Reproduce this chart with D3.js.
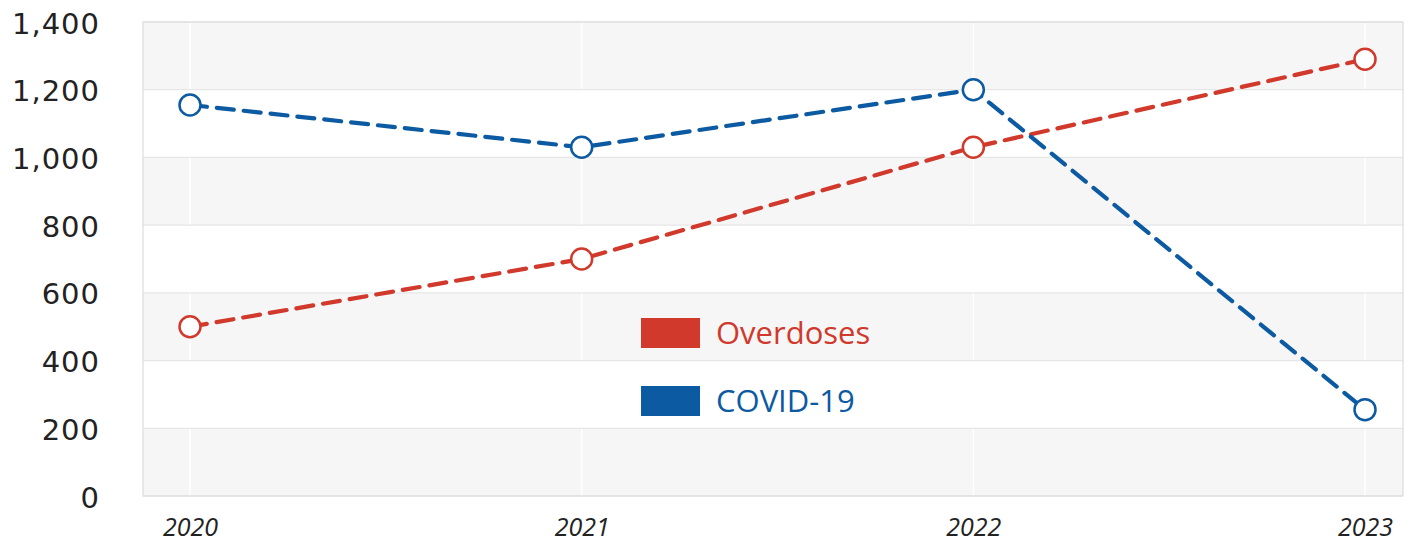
<html lang="en">
<head>
<meta charset="UTF-8">
<title>Overdoses vs COVID-19</title>
<script src="https://d3js.org/d3.v7.min.js"></script>
<style>
  body { margin: 0; background: #fff; }
</style>
</head>
<body>
<script>
// data
const years = [2020, 2021, 2022, 2023]
const overdoses = [500, 700, 1030, 1290]
const covid = [1155, 1030, 1200, 255]
const yTicks = [0, 200, 400, 600, 800, 1000, 1200, 1400]
const seriesNames = ["Overdoses", "COVID-19"]

const width = 1410, height = 544
const plot = { left: 143, right: 1403, top: 22, bottom: 496 }
const red = "#d0392b", blue = "#0c5aa1"

const svg = d3.select("body").append("svg")
  .attr("width", width)
  .attr("height", height)

const x = d3.scaleLinear()
  .domain([2020, 2023])
  .range([190, 1365])
const y = d3.scaleLinear()
  .domain([0, 1400])
  .range([plot.bottom, plot.top])

// alternating bands
const bands = yTicks.slice(0, -1).map((v, i) => ({ lo: v, hi: yTicks[i + 1], i }))
svg.append("g").selectAll("rect")
  .data(bands)
  .enter().append("rect")
  .attr("x", plot.left)
  .attr("width", plot.right - plot.left)
  .attr("y", d => y(d.hi))
  .attr("height", d => y(d.lo) - y(d.hi))
  .attr("fill", d => d.i % 2 === 0 ? "#f6f6f6" : "#ffffff")

// vertical white grid lines
svg.append("g").selectAll("line")
  .data(years)
  .enter().append("line")
  .attr("x1", d => x(d)).attr("x2", d => x(d))
  .attr("y1", plot.top).attr("y2", plot.bottom)
  .attr("stroke", "#ffffff")
  .attr("stroke-width", 1.5)

// horizontal grid lines
svg.append("g").selectAll("line")
  .data(yTicks)
  .enter().append("line")
  .attr("x1", plot.left).attr("x2", plot.right)
  .attr("y1", d => y(d)).attr("y2", d => y(d))
  .attr("stroke", "#e6e6e6")
  .attr("stroke-width", 1.2)

// frame
svg.append("rect")
  .attr("x", plot.left).attr("y", plot.top)
  .attr("width", plot.right - plot.left)
  .attr("height", plot.bottom - plot.top)
  .attr("fill", "none")
  .attr("stroke", "#dcdcdc")
  .attr("stroke-width", 1.2)

// y axis
const yAxis = d3.axisLeft(y)
  .tickValues(yTicks)
  .tickFormat(d3.format(","))
  .tickSize(0)
  .tickPadding(0)
const gy = svg.append("g")
  .attr("transform", "translate(100,0)")
  .call(yAxis)
gy.select(".domain").remove()
gy.selectAll("text")
  .attr("dy", "0.38em")
  .attr("font-family", "DejaVu Sans, sans-serif")
  .attr("font-size", 29)
  .attr("letter-spacing", 1)
  .attr("fill", "#222")

// x axis
const xAxis = d3.axisBottom(x)
  .tickValues(years)
  .tickFormat(d3.format("d"))
  .tickSize(0)
  .tickPadding(0)
const gx = svg.append("g")
  .attr("transform", "translate(0,518)")
  .call(xAxis)
gx.select(".domain").remove()
gx.selectAll("text")
  .attr("font-family", "Open Sans, sans-serif")
  .attr("font-style", "italic")
  .attr("font-size", 25)
  .attr("fill", "#222")

// lines
const series = [
  { name: seriesNames[0], color: red, values: overdoses },
  { name: seriesNames[1], color: blue, values: covid }
]
const lineF = d3.line()
  .x((d, i) => x(years[i]))
  .y(d => y(d))

for (let s of series) {
  svg.append("path")
    .datum(s.values)
    .attr("d", lineF)
    .attr("fill", "none")
    .attr("stroke", s.color)
    .attr("stroke-width", 4.2)
    .attr("stroke-linecap", "round")
    .attr("stroke-dasharray", "17,10")
}
for (let s of series) {
  svg.append("g").selectAll("circle")
    .data(s.values)
    .enter().append("circle")
    .attr("cx", (d, i) => x(years[i]))
    .attr("cy", d => y(d))
    .attr("r", 10.5)
    .attr("fill", "#fff")
    .attr("stroke", s.color)
    .attr("stroke-width", 2.5)
}

// legend
const legend = svg.append("g").attr("transform", "translate(641,318)")
const item = legend.selectAll("g")
  .data(series)
  .enter().append("g")
  .attr("transform", (d, i) => `translate(0,${i * 68})`)
item.append("rect")
  .attr("width", 59).attr("height", 30)
  .attr("fill", d => d.color)
item.append("text")
  .attr("x", 75).attr("y", 26)
  .attr("font-family", "Open Sans, sans-serif")
  .attr("font-size", 31)
  .attr("fill", d => d.color)
  .text(d => d.name)
</script>
</body>
</html>
